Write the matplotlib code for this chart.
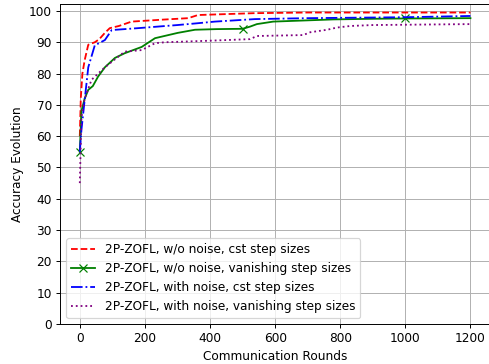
import numpy as np
import matplotlib.pyplot as plt

# red: w/o noise, cst step sizes
x_red = np.asarray([0, 3, 8, 15, 26, 46, 60, 77, 92, 120, 159, 250, 333, 363, 450, 538, 700, 1200])
y_red = np.asarray([60, 72, 80, 84.3, 89.2, 90, 91, 93, 94.5, 95.2, 96.6, 97.2, 97.7, 98.7, 99.0, 99.3, 99.5, 99.5])

# green: w/o noise, vanishing step sizes
x_green = np.asarray([0, 5, 15, 26, 40, 56, 77, 108, 138, 190, 231, 301, 354, 420, 500, 523, 544, 594, 700, 779, 900, 1000, 1200])
y_green = np.asarray([55, 68, 72, 74.8, 76, 79, 82, 85, 86.5, 88.5, 91.3, 93, 94, 94.2, 94.3, 95, 95.8, 96.6, 97.0, 97.3, 97.5, 97.6, 97.7])

# blue: with noise, cst step sizes
x_blue = np.asarray([0, 5, 15, 26, 46, 77, 98, 178, 300, 354, 415, 538, 700, 1000, 1200])
y_blue = np.asarray([55, 62, 71.6, 82, 89, 90.7, 93.9, 94.5, 95.5, 96, 96.6, 97.4, 97.7, 98.0, 98.4])

# purple: with noise, vanishing step sizes
x_purple = np.asarray([0, 5, 15, 36, 77, 117, 138, 190, 231, 261, 400, 523, 544, 686, 708, 760, 790, 831, 900, 1200])
y_purple = np.asarray([45, 66, 72, 78, 82, 85.3, 87, 87.5, 89.7, 90, 90.5, 91, 92, 92.3, 93.2, 94, 94.7, 95.2, 95.5, 95.8])

labels = ['2P-ZOFL, w/o noise, cst step sizes',
          '2P-ZOFL, w/o noise, vanishing step sizes',
          '2P-ZOFL, with noise, cst step sizes',
          '2P-ZOFL, with noise, vanishing step sizes']

# the reference looks like a default figure shrunk to ~87%
fig = plt.figure(figsize=(5.632, 4.184), dpi=87)
ax = fig.add_axes([0.123, 0.11, 0.877, 0.879])

ax.plot(x_red, y_red, 'r--', label=labels[0])
marks = list(np.where(np.isin(x_green, [0, 500, 1000]))[0])
ax.plot(x_green, y_green, 'g-', marker='x', markersize=7, markevery=marks, label=labels[1])
ax.plot(x_blue, y_blue, 'b-.', label=labels[2])
ax.plot(x_purple, y_purple, color='purple', linestyle=':', label=labels[3])

ax.set_ylim(bottom=0)
ax.set_yticks(np.arange(0, 101, 10))
ax.grid()
ax.set_xlabel('Communication Rounds')
ax.set_ylabel('Accuracy Evolution')
ax.legend(loc='lower left')

plt.savefig('out.png', dpi=87)
